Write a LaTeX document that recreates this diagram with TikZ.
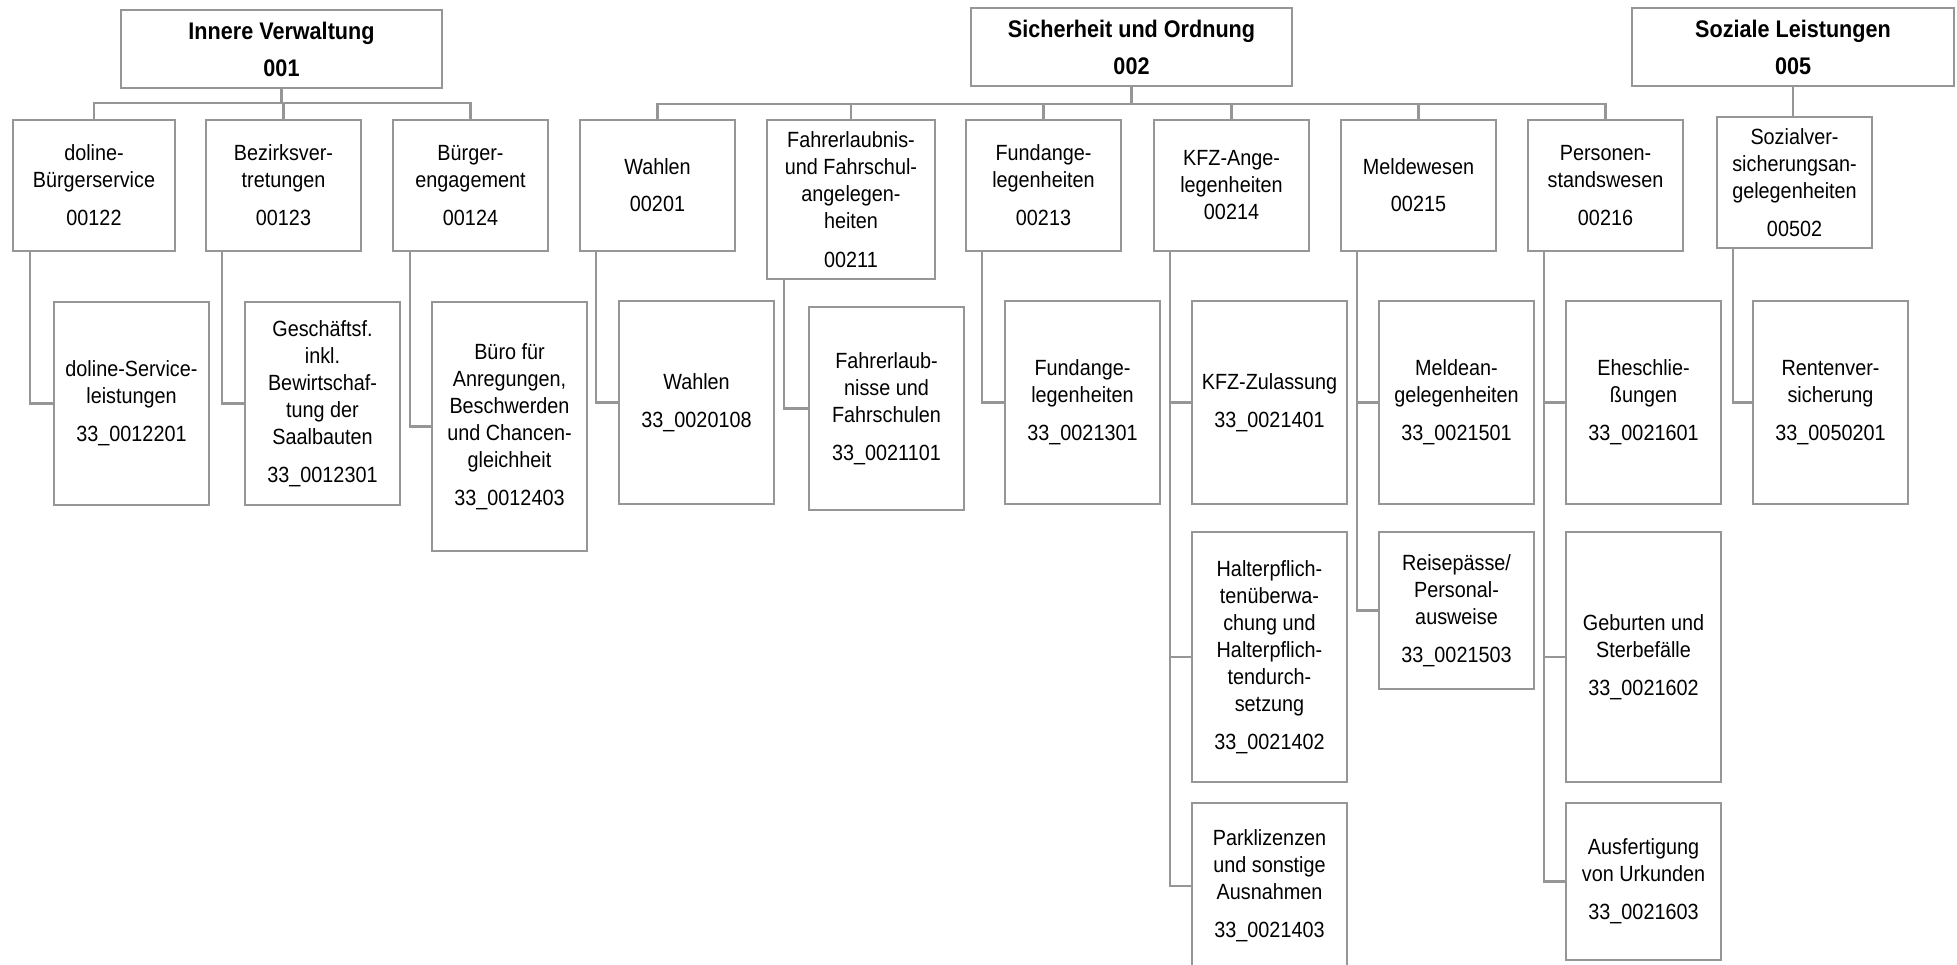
\documentclass[tikz,border=0pt]{standalone}
\usepackage{fontspec}
\setmainfont{Liberation Sans}[FakeStretch=0.9]
\usepackage{tikz}
\usetikzlibrary{positioning}
\definecolor{linegray}{RGB}{150,150,150}
\tikzset{
  topbox/.style={rectangle,draw=linegray,line width=2.9pt,fill=white,outer sep=0pt,
                 minimum width=#1,minimum height=78pt,inner sep=0pt,align=center,
                 font=\fontsize{24}{30}\selectfont\bfseries},
  topbox/.default=321pt,
  midbox/.style={rectangle,draw=linegray,line width=2.9pt,fill=white,outer sep=0pt,
                 minimum width=155pt,minimum height=#1,inner sep=0pt,align=center,
                 font=\fontsize{22}{27}\selectfont},
  midbox/.default=131pt,
  prodbox/.style={midbox=#1},
  prodbox/.default=203pt,
  conn/.style={draw=linegray,line width=2.9pt},
}

\begin{document}
\begin{tikzpicture}[x=1pt,y=-1pt]
  \useasboundingbox (0,0) rectangle (1957,964);

  % --- Produktbereiche ---
  \node[topbox, anchor=north west] (iv) at (121,10) {Innere Verwaltung\\[7pt]001};
  \node[topbox, anchor=north west] (so) at (971,8) {Sicherheit und Ordnung\\[7pt]002};
  \node[topbox=322pt, anchor=north west] (sl) at (1632,8) {Soziale Leistungen\\[7pt]005};

  % --- Produktgruppen ---
  \node[midbox, minimum width=162pt, anchor=north west] (n00122) at (13,120)
    {doline-\\Bürgerservice\\[11pt]00122};
  \node[midbox, right=31pt of n00122.north east, anchor=north west] (n00123)
    {Bezirksver-\\tretungen\\[11pt]00123};
  \node[midbox, right=32pt of n00123.north east, anchor=north west] (n00124)
    {Bürger-\\engagement\\[11pt]00124};
  \node[midbox, right=32pt of n00124.north east, anchor=north west] (n00201)
    {Wahlen\\[10pt]00201};
  \node[midbox=159pt, minimum width=168pt, right=32pt of n00201.north east, anchor=north west] (n00211)
    {Fahrerlaubnis-\\und Fahrschul-\\angelegen-\\heiten\\[12pt]00211};
  \node[midbox, right=31pt of n00211.north east, anchor=north west] (n00213)
    {Fundange-\\legenheiten\\[11pt]00213};
  \node[midbox, right=33pt of n00213.north east, anchor=north west] (n00214)
    {KFZ-Ange-\\legenheiten\\00214};
  \node[midbox, right=32pt of n00214.north east, anchor=north west] (n00215)
    {Meldewesen\\[10pt]00215};
  \node[midbox, right=32pt of n00215.north east, anchor=north west] (n00216)
    {Personen-\\standswesen\\[11pt]00216};
  \node[midbox, right=34pt of n00216.north east, anchor=north west, yshift=3pt] (n00502)
    {Sozialver-\\sicherungsan-\\gelegenheiten\\[11pt]00502};

  % --- Produkte ---
  \node[prodbox, below right=51pt and 41pt of n00122.south west] (l0012201)
    {doline-Service-\\leistungen\\[11pt]33\_0012201};
  \node[prodbox, below right=51pt and 39pt of n00123.south west] (l0012301)
    {Geschäftsf.\\inkl.\\Bewirtschaf-\\tung der\\Saalbauten\\[11pt]33\_0012301};
  \node[prodbox=249pt, below right=51pt and 39pt of n00124.south west] (l0012403)
    {Büro für\\Anregungen,\\Beschwerden\\und Chancen-\\gleichheit\\[11pt]33\_0012403};
  \node[prodbox, below right=50pt and 39pt of n00201.south west] (l0020108)
    {Wahlen\\[11pt]33\_0020108};
  \node[prodbox, below right=28pt and 42pt of n00211.south west] (l0021101)
    {Fahrerlaub-\\nisse und\\Fahrschulen\\[11pt]33\_0021101};
  \node[prodbox, below right=50pt and 39pt of n00213.south west] (l0021301)
    {Fundange-\\legenheiten\\[11pt]33\_0021301};
  \node[prodbox, below right=50pt and 38pt of n00214.south west] (l0021401)
    {KFZ-Zulassung\\[11pt]33\_0021401};
  \node[prodbox=250pt, below=28pt of l0021401] (l0021402)
    {Halterpflich-\\tenüberwa-\\chung und\\Halterpflich-\\tendurch-\\setzung\\[11pt]33\_0021402};
  \node[prodbox=166pt, below=21pt of l0021402] (l0021403)
    {Parklizenzen\\und sonstige\\Ausnahmen\\[11pt]33\_0021403};
  \node[prodbox, below right=50pt and 38pt of n00215.south west] (l0021501)
    {Meldean-\\gelegenheiten\\[11pt]33\_0021501};
  \node[prodbox=157pt, below=28pt of l0021501] (l0021503)
    {Reisepässe/\\Personal-\\ausweise\\[11pt]33\_0021503};
  \node[prodbox, below right=50pt and 38pt of n00216.south west] (l0021601)
    {Eheschlie-\\ßungen\\[11pt]33\_0021601};
  \node[prodbox=250pt, below=28pt of l0021601] (l0021602)
    {Geburten und\\Sterbefälle\\[11pt]33\_0021602};
  \node[prodbox=157pt, below=21pt of l0021602] (l0021603)
    {Ausfertigung\\von Urkunden\\[11pt]33\_0021603};
  \node[prodbox, below right=53pt and 36pt of n00502.south west] (l0050201)
    {Rentenver-\\sicherung\\[11pt]33\_0050201};

  % --- Verbindungen oben ---
  \draw[conn] (iv.south) -- ++(0,15) coordinate (ivbus);
  \foreach \g in {n00122,n00123,n00124}
    \draw[conn] (ivbus) -| (\g.north);
  \draw[conn] (so.south) -- ++(0,18) coordinate (sobus);
  \foreach \g in {n00201,n00211,n00213,n00214,n00215,n00216}
    \draw[conn] (sobus) -| (\g.north);
  \draw[conn, line width=1.8pt] (sl.south) -- (sl.south |- n00502.north);

  % --- Verbindungen unten ---
  \draw[conn] ([xshift=17pt]n00122.south west) |- (l0012201.west);
  \draw[conn] ([xshift=16pt]n00123.south west) |- (l0012301.west);
  \draw[conn] ([xshift=17pt]n00124.south west) |- (l0012403.west);
  \draw[conn] ([xshift=16pt]n00201.south west) |- (l0020108.west);
  \draw[conn] ([xshift=17pt]n00211.south west) |- (l0021101.west);
  \draw[conn] ([xshift=16pt]n00213.south west) |- (l0021301.west);
  \foreach \p in {l0021401,l0021402,l0021403}
    \draw[conn] ([xshift=16pt]n00214.south west) |- (\p.west);
  \foreach \p in {l0021501,l0021503}
    \draw[conn] ([xshift=16pt]n00215.south west) |- (\p.west);
  \foreach \p in {l0021601,l0021602,l0021603}
    \draw[conn] ([xshift=16pt]n00216.south west) |- (\p.west);
  \draw[conn] ([xshift=16pt]n00502.south west) |- (l0050201.west);
\end{tikzpicture}
\end{document}
